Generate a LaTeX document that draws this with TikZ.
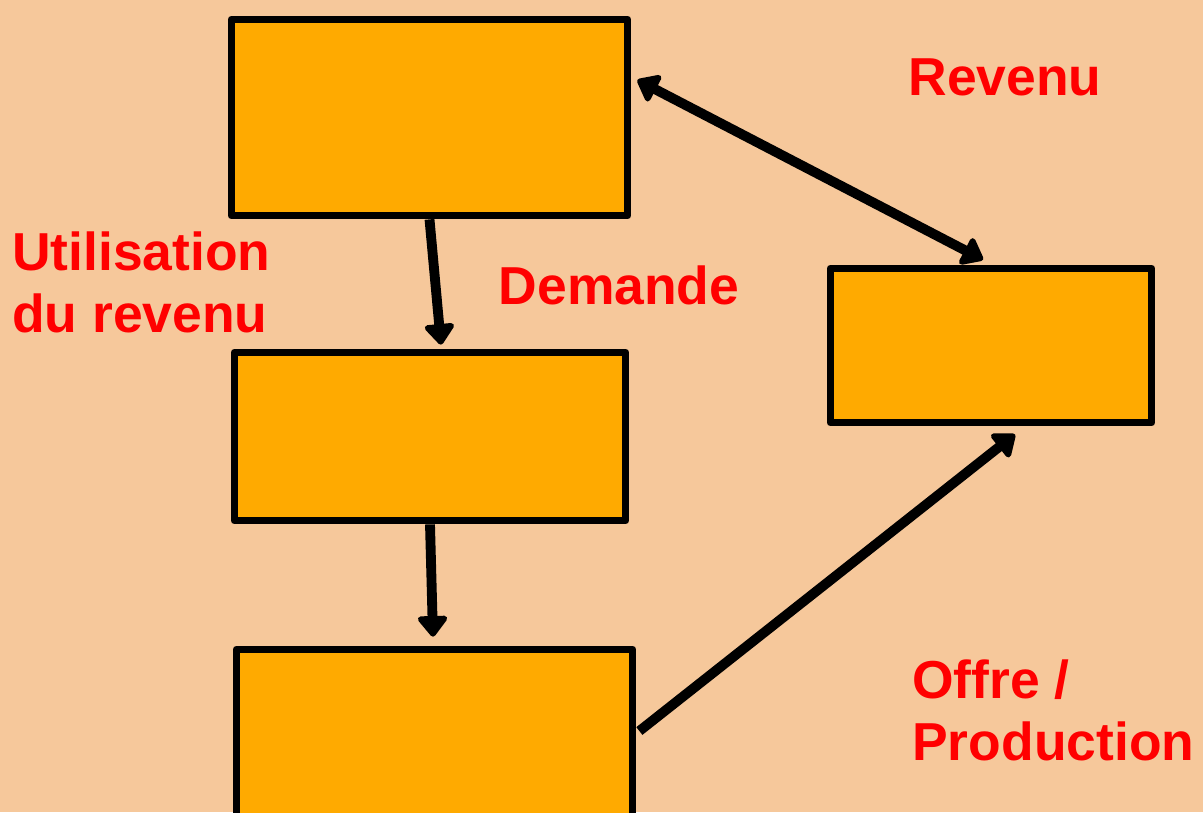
\documentclass[tikz,border=0pt]{standalone}
\usepackage{fontspec}
\setmainfont{Liberation Sans}
\usetikzlibrary{arrows.meta,calc}
\definecolor{bgc}{RGB}{246,200,155}
\definecolor{boxc}{RGB}{255,170,0}
\definecolor{txtc}{RGB}{255,0,0}
\tikzset{
  flowbox/.style={draw=black,fill=boxc,line width=5.5pt,rectangle,inner sep=0pt,line join=round},
  conn/.style={line width=7pt,-{Triangle[length=16pt,width=24pt,round]}},
  biconn/.style={line width=7pt,{Triangle[length=16pt,width=24pt,round]}-{Triangle[length=16pt,width=24pt,round]}},
  lbl/.style={text=txtc,font=\fontsize{38}{44}\selectfont\bfseries,inner sep=0pt}
}
\begin{document}
\begin{tikzpicture}[x=0.025cm,y=-0.025cm]
\useasboundingbox (0,0) rectangle (1203,812);
\fill[bgc] (0,0) rectangle (1203,812);
\clip (0,0) rectangle (1203,812);
\node[flowbox,minimum width=396*0.025cm,minimum height=196*0.025cm] (A) at (429.5,117.5) {};
\node[flowbox,minimum width=391*0.025cm,minimum height=168*0.025cm] (B) at (430,436.5) {};
\node[flowbox,minimum width=396*0.025cm,minimum height=200*0.025cm] (C) at (434.5,749.5) {};
\node[flowbox,minimum width=321*0.025cm,minimum height=154*0.025cm] (D) at (991,345.5) {};
\draw[conn] (A.south) -- ($(B.north)+(11,-4)$);
\draw[conn] (B.south) -- ($(C.north)+(-1.5,-9)$);
\draw[biconn] ($(A.east)+(6,-37.5)$) -- ($(D.north)+(-8,-5)$);
\draw[conn] ($(C.east)+(3,-18.5)$) -- ($(D.south)+(24,8)$);
\node[lbl] (rev) at (1005,77) {Revenu};
\node[lbl] (dem) at (619,285) {Demande};
\node[lbl,anchor=west,align=left] (util) at (12,282) {Utilisation\\du revenu};
\node[lbl,anchor=west,align=left] (off) at (912,710) {Offre /\\Production};
\end{tikzpicture}
\end{document}
